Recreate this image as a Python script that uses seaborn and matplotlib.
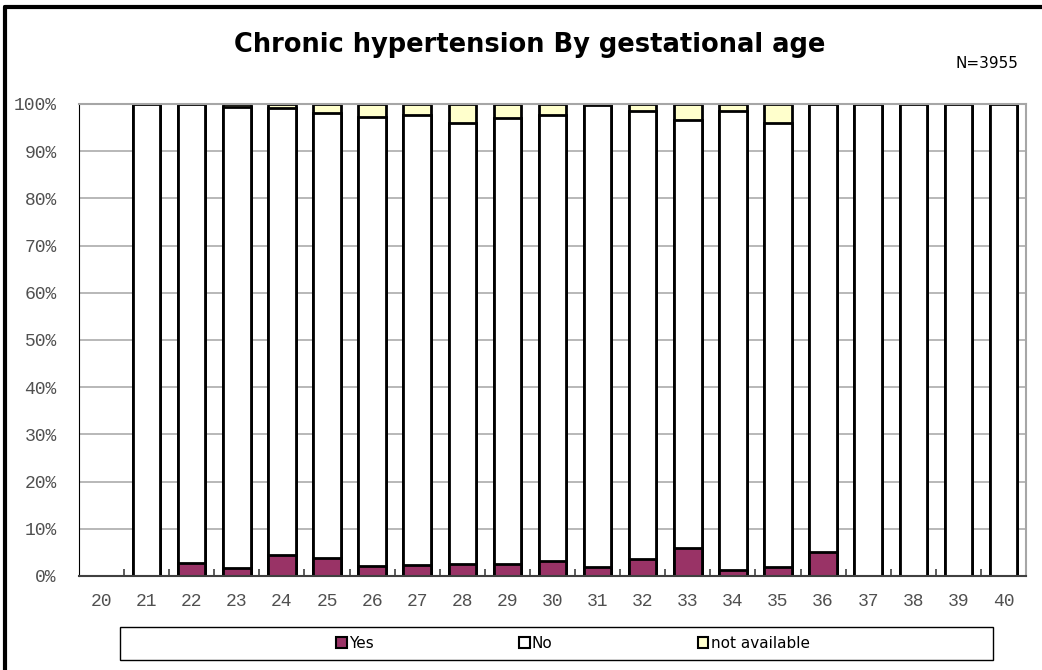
import numpy as np
import pandas as pd
import matplotlib.pyplot as plt
import seaborn as sns
from matplotlib.patches import Patch, Rectangle
from matplotlib.lines import Line2D

# dati (percentuali per settimana gestazionale)
weeks_all = [str(w) for w in range(20, 41)]
weeks = [str(w) for w in range(21, 41)]
yes = [0, 2.7, 1.6, 4.4, 3.8, 2.2, 2.3, 2.5, 2.5, 3.2, 2.0, 3.7, 6.0, 1.3, 2.0, 5.0, 0, 0, 0, 0]
no = [100, 97.3, 97.7, 94.7, 94.2, 95.0, 95.4, 93.4, 94.6, 94.4, 97.7, 94.8, 90.6, 97.2, 93.9, 95.0, 100, 100, 100, 100]
na = [0, 0, 0.7, 0.9, 2.0, 2.8, 2.3, 4.1, 2.9, 2.4, 0.3, 1.5, 3.4, 1.5, 4.1, 0, 0, 0, 0, 0]
y_ticks = list(range(0, 101, 10))

c_yes = '#993366'
c_no = '#FFFFFF'
c_na = '#FFFFCC'

df = pd.DataFrame({'week': weeks, 'yes': yes, 'no': no, 'na': na})
df['yes_no'] = df['yes'] + df['no']
df['total'] = df['yes_no'] + df['na']

sns.set_style('white')
plt.rcParams['font.family'] = ['DejaVu Sans']
plt.rcParams['text.color'] = 'black'

fig = plt.figure(figsize=(10.42, 6.70), dpi=100)
ax = fig.add_axes([79 / 1042, 1 - 576 / 670, (1026 - 79) / 1042, (576 - 104) / 670])

# gridlines orizzontali
for v in y_ticks:
    ax.axhline(v, color='#ABABAB', lw=1.2, zorder=0)

# barre impilate: strati cumulativi
kw = dict(order=weeks_all, width=0.61, edgecolor='black', linewidth=2.0,
          errorbar=None, ax=ax, zorder=2)
sns.barplot(data=df, x='week', y='total', color=c_na, saturation=1, **kw)
sns.barplot(data=df, x='week', y='yes_no', color=c_no, saturation=1, **kw)
sns.barplot(data=df, x='week', y='yes', color=c_yes, saturation=1, **kw)

ax.set_xlim(-0.5, len(weeks_all) - 0.5)
ax.set_ylim(0, 100)
ax.set_xlabel('')
ax.set_ylabel('')

mono = ['Liberation Mono', 'DejaVu Sans Mono']
ax.set_yticks(y_ticks)
ax.set_yticklabels([f'{v}%' for v in y_ticks], family=mono, fontsize=13, color='#505050')
ax.tick_params(axis='y', length=0, pad=16)
ax.set_xticks(range(len(weeks_all)))
ax.set_xticklabels(weeks_all, family=mono, fontsize=13, color='#505050')
ax.tick_params(axis='x', which='major', length=0, pad=12)
ax.set_xticks(np.arange(len(weeks_all) - 1) + 0.5, minor=True)
ax.tick_params(axis='x', which='minor', bottom=True, direction='in', length=5,
               width=1.2, color='#404040')

for s in ['top', 'right']:
    ax.spines[s].set_color('#A6A6A6')
    ax.spines[s].set_linewidth(1.5)
ax.spines['left'].set_color('black')
ax.spines['bottom'].set_color('#404040')
ax.spines['bottom'].set_linewidth(1.5)

# titolo e N
fig.text(530 / 1042, 1 - 45 / 670, 'Chronic hypertension By gestational age',
         ha='center', va='center', fontsize=18.5, fontweight='bold', color='black')
fig.text(987 / 1042, 1 - 63 / 670, 'N=3955', ha='center', va='center', fontsize=11,
         color='black')

# riquadro legenda
fig.add_artist(Rectangle((120 / 1042, 1 - 660 / 670), (993 - 120) / 1042, 33 / 670,
                         transform=fig.transFigure, fill=False, edgecolor='black', lw=1))
handles = [Patch(facecolor=c_yes, edgecolor='black', lw=1.5),
           Patch(facecolor=c_no, edgecolor='black', lw=1.5),
           Patch(facecolor=c_na, edgecolor='black', lw=1.5)]
fig.legend(handles, ['Yes', 'No', 'not available'], loc='center left',
           bbox_to_anchor=(336 / 1042, 1 - 643 / 670), ncol=3, frameon=False,
           fontsize=11, handlelength=0.7, handleheight=0.7, handletextpad=0.15,
           columnspacing=9.5, borderpad=0, borderaxespad=0, labelcolor='black')

# bordo esterno
fig.add_artist(Line2D([5 / 1042, 5 / 1042], [0, 1 - 7 / 670], transform=fig.transFigure,
                      color='black', lw=3))
fig.add_artist(Line2D([5 / 1042, 1], [1 - 7 / 670, 1 - 7 / 670], transform=fig.transFigure,
                      color='black', lw=3))

fig.savefig('out.png', dpi=100)
